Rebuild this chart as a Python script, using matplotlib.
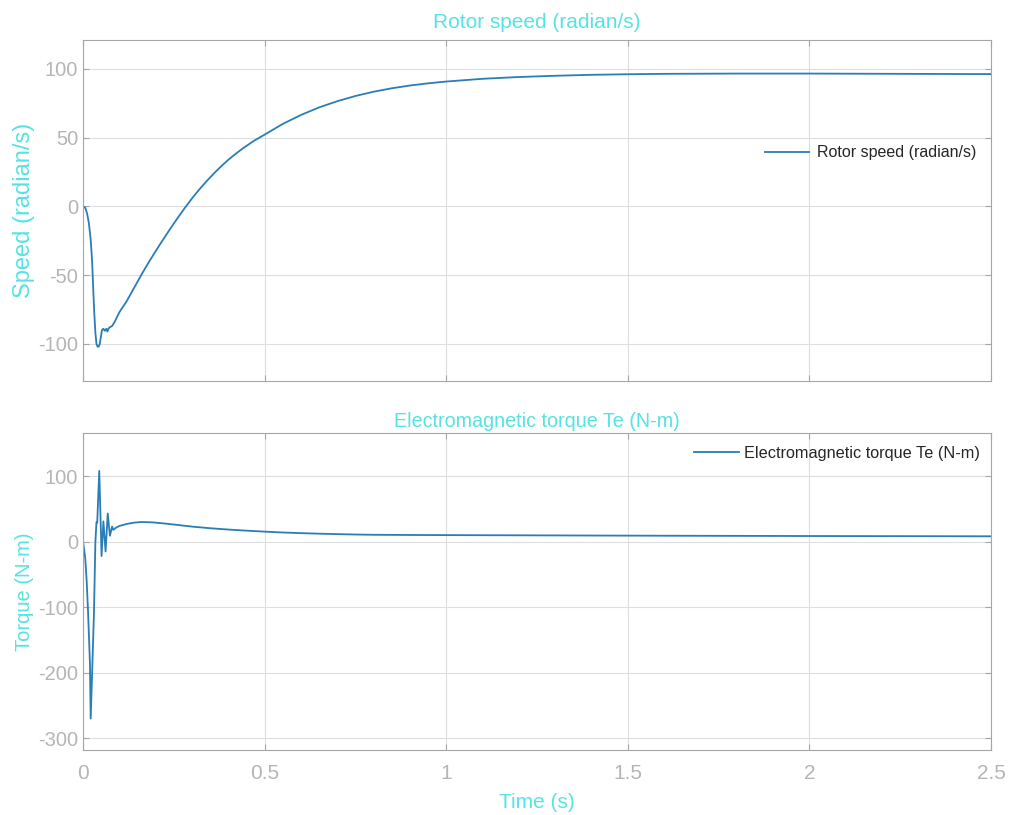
import matplotlib
matplotlib.use("Agg")
import matplotlib.pyplot as plt

# rotor speed trace (s, rad/s)
speed_t = [0, 0.006, 0.011, 0.016, 0.021, 0.025, 0.028, 0.031, 0.034, 0.037,
           0.040, 0.043, 0.046, 0.049, 0.052, 0.056, 0.060, 0.064, 0.067, 0.070,
           0.073, 0.080, 0.087, 0.10, 0.12, 0.14, 0.16, 0.18, 0.20, 0.22,
           0.24, 0.26, 0.28, 0.30, 0.32, 0.34, 0.36, 0.38, 0.40, 0.42,
           0.44, 0.47, 0.50, 0.55, 0.60, 0.65, 0.70, 0.75, 0.80, 0.85,
           0.90, 0.95, 1.0, 1.1, 1.2, 1.3, 1.4, 1.5, 1.6, 1.8,
           2.0, 2.25, 2.5]
speed_w = [0, -1, -5, -12, -24, -40, -60, -78, -92, -100,
           -102, -102, -100, -95, -90, -89, -90.5, -89, -91, -89,
           -88, -87, -84, -77, -69, -59.5, -50, -41, -32.5, -24.3,
           -16.3, -8.6, -1.2, 5.8, 12.3, 18.3, 23.9, 29.1, 33.9, 38.2,
           42.2, 47.6, 52.2, 60, 66.5, 72, 76.5, 80.3, 83.4, 85.9,
           87.9, 89.5, 90.8, 92.8, 94.1, 95, 95.7, 96.1, 96.4, 96.6,
           96.6, 96.4, 96.2]

# electromagnetic torque trace (s, N-m)
torque_t = [0, 0.006, 0.010, 0.014, 0.019, 0.021, 0.025, 0.030, 0.034, 0.037,
            0.039, 0.0446, 0.051, 0.056, 0.062, 0.068, 0.074, 0.080, 0.083, 0.09,
            0.10, 0.12, 0.14, 0.16, 0.19, 0.22, 0.26, 0.30, 0.35, 0.40,
            0.45, 0.50, 0.55, 0.60, 0.65, 0.70, 0.75, 0.80, 0.90, 1.0,
            1.2, 1.5, 2.0, 2.5]
torque_te = [0, -25, -60, -110, -186, -270, -200, -110, 0, 30,
             29, 108, -22, 31, -15, 43, 9, 23, 18, 21,
             24, 27, 29, 30, 29.5, 28, 25.5, 23, 20.5, 18.5,
             16.8, 15.3, 14, 13, 12.2, 11.5, 10.9, 10.5, 10.2, 10,
             9.7, 9.2, 8.6, 8.2]

xticks = [0, 0.5, 1, 1.5, 2, 2.5]
xticklabels = ["0", "0.5", "1", "1.5", "2", "2.5"]

cyan = "#55e3e3"
tick_grey = "#b5b5b5"
line_blue = "#2a7db5"

plt.rcParams["font.family"] = ["Liberation Sans", "DejaVu Sans"]
plt.rcParams["axes.unicode_minus"] = False

fig = plt.figure(figsize=(10.14, 8.15), dpi=100)
ax1 = fig.add_axes([0.0819, 0.5325, 0.8955, 0.4184])
ax2 = fig.add_axes([0.0819, 0.0798, 0.8955, 0.389])

ax1.plot(speed_t, speed_w, color=line_blue, lw=1.3, label="Rotor speed (radian/s)")
ax2.plot(torque_t, torque_te, color=line_blue, lw=1.3,
         label="Electromagnetic torque Te (N-m)")

ax1.set_ylim(-127, 121)
ax1.set_yticks([-100, -50, 0, 50, 100])
ax2.set_ylim(-318, 166)
ax2.set_yticks([-300, -200, -100, 0, 100])

for ax in (ax1, ax2):
    ax.set_xlim(0, 2.5)
    ax.set_xticks(xticks)
    ax.grid(True, color="#dedede", lw=0.8)
    ax.set_axisbelow(True)
    for s in ax.spines.values():
        s.set_color("#a6a6a6")
        s.set_linewidth(0.8)
    ax.tick_params(direction="in", length=4, color="#a6a6a6",
                   top=True, right=True, labelcolor=tick_grey, labelsize=14.5)

ax1.tick_params(labelbottom=False)
ax2.set_xticklabels(xticklabels)
ax2.tick_params(axis="x", pad=10, labelsize=15)

ax1.set_title("Rotor speed (radian/s)", color=cyan, fontsize=15, pad=9)
ax2.set_title("Electromagnetic torque Te (N-m)", color=cyan, fontsize=14.2, pad=4)
ax1.set_ylabel("Speed (radian/s)", color=cyan, fontsize=17, labelpad=2)
ax2.set_ylabel("Torque (N-m)", color=cyan, fontsize=14.5, labelpad=3)
ax2.set_xlabel("Time (s)", color=cyan, fontsize=15, labelpad=7)

ax1.legend(loc="center right", bbox_to_anchor=(1.0, 0.669), frameon=False,
           fontsize=11.5, handlelength=2.8, handletextpad=0.5,
           labelcolor="#262626")
ax2.legend(loc="center right", bbox_to_anchor=(1.004, 0.935), frameon=False,
           fontsize=11.7, handlelength=2.8, handletextpad=0.3,
           labelcolor="#262626")

fig.savefig("out.png", dpi=100)
